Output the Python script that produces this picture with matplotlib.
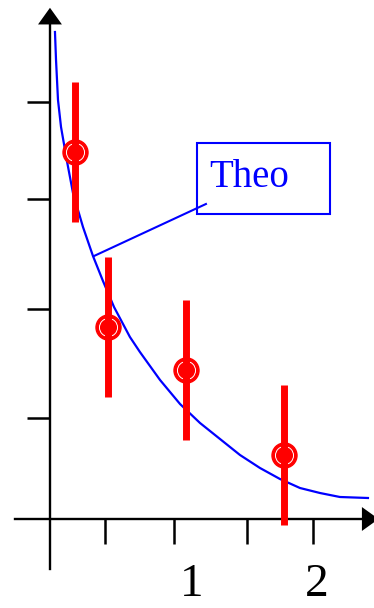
import matplotlib.pyplot as plt
from matplotlib.patches import FancyArrowPatch, Rectangle

# measured points with symmetric errors
x_meas = [0.19, 0.441, 1.034, 1.779]
y_meas = [3.67, 1.92, 1.49, 0.64]
y_err = [0.70, 0.70, 0.70, 0.70]

# theory curve
x_theo = [0.038, 0.046, 0.061, 0.084, 0.129, 0.175, 0.251, 0.327, 0.403, 0.487,
          0.608, 0.684, 0.837, 0.989, 1.141, 1.293, 1.445, 1.597, 1.749, 1.901,
          2.053, 2.205, 2.418]
y_theo = [4.87, 4.59, 4.19, 3.92, 3.58, 3.26, 2.92, 2.63, 2.38, 2.12,
          1.82, 1.67, 1.39, 1.15, 0.96, 0.80, 0.64, 0.51, 0.40, 0.31,
          0.26, 0.22, 0.21]

x_ticks = [0.418, 0.943, 1.498, 2.0]
y_ticks = [1.01, 2.10, 3.20, 4.17]
x_labels = ["1", "2"]
x_label_pos = [1.08, 2.03]

red = "#ff0000"
blue = "#0000ff"

fig = plt.figure(figsize=(3.74, 6.08), dpi=100)
ax = fig.add_axes([0, 0, 1, 1])
ax.set_xlim(-0.380, 2.464)
ax.set_ylim(-0.89, 5.19)

# axes drawn through the origin
for side in ["top", "right"]:
    ax.spines[side].set_visible(False)
ax.spines["left"].set_position(("data", 0))
ax.spines["bottom"].set_position(("data", 0))
ax.spines["left"].set_bounds(-0.50, 4.97)
ax.spines["bottom"].set_bounds(-0.266, 2.40)
for side in ["left", "bottom"]:
    ax.spines[side].set_linewidth(1.7)
ax.set_xticks(x_ticks)
ax.set_yticks(y_ticks)
ax.set_xticklabels([])
ax.set_yticklabels([])
ax.tick_params(axis="x", direction="out", length=18, width=1.8)
ax.tick_params(axis="y", direction="out", length=16.5, width=1.8)

# arrow heads
ax.add_patch(FancyArrowPatch((0, 4.90), (0, 5.14), arrowstyle="-|>,head_length=0.6,head_width=0.43",
                             mutation_scale=20, color="black", lw=0, clip_on=False))
ax.add_patch(FancyArrowPatch((2.38, 0), (2.52, 0), arrowstyle="-|>,head_length=0.6,head_width=0.43",
                             mutation_scale=20, color="black", lw=0, clip_on=False))

for pos, lab in zip(x_label_pos, x_labels):
    ax.text(pos, -0.77, lab, ha="center", va="baseline", fontsize=34,
            family="Liberation Serif")

# theory curve and its label
ax.plot(x_theo, y_theo, color=blue, lw=1.6, zorder=3, solid_joinstyle="round")
ax.plot([0.335, 1.186], [2.63, 3.15], color=blue, lw=1.5, zorder=3)
ax.add_patch(Rectangle((1.118, 3.05), 1.011, 0.71, fill=False, edgecolor=blue, lw=1.5))
ax.text(1.209, 3.32, "Theo", color=blue, fontsize=28, family="Liberation Serif",
        va="baseline", ha="left")

# data points: filled circle with a white ring, error bar on top
ax.plot(x_meas, y_meas, "o", ms=18, color=red, mec=red, zorder=4)
ax.plot(x_meas, y_meas, "o", ms=13, mfc="none", mec="white", mew=0.7, zorder=5)
ax.errorbar(x_meas, y_meas, yerr=y_err, fmt="none", ecolor=red, elinewidth=5,
            capsize=0, zorder=6)

fig.savefig("out.png", dpi=100)
